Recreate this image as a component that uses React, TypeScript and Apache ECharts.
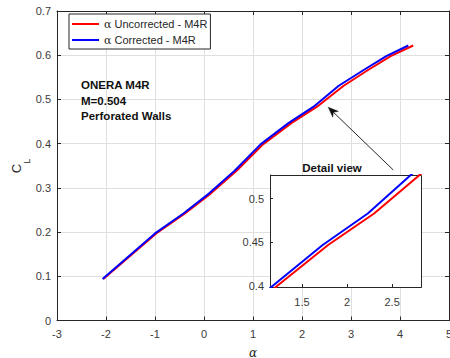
import React, { useEffect, useRef } from 'react';
import * as echarts from 'echarts';

// ---------- data ----------
const seriesNames = ['α Uncorrected - M4R', 'α Corrected - M4R'];
const alphaUncorrected = [-2.055, -0.975, -0.39, 0.135, 0.66, 1.21, 1.79, 2.3, 2.85, 3.34, 3.81, 4.27];
const clUncorrected = [0.094, 0.197, 0.242, 0.287, 0.338, 0.399, 0.447, 0.483, 0.531, 0.566, 0.598, 0.622];
const alphaCorrected = [-2.07, -1.0, -0.42, 0.1, 0.62, 1.16, 1.73, 2.23, 2.75, 3.25, 3.72, 4.17];
const clCorrected = [0.094, 0.197, 0.242, 0.287, 0.338, 0.399, 0.447, 0.483, 0.531, 0.566, 0.598, 0.622];
const insetXTicks = [1.5, 2, 2.5];
const insetYTicks = [0.4, 0.45, 0.5];
const annotationLines = ['ONERA M4R', 'M=0.504', 'Perforated Walls'];
const insetTitle = 'Detail view';

const FONT = '"Liberation Sans", Arial, Helvetica, sans-serif';
const AX = '#262626';
const LBL = '#3a3a3a';
const GRIDC = '#dfdfdf';
const RED = '#ff0000';
const BLUE = '#0000ff';

const pairs = (xs: number[], ys: number[]) => xs.map((x, i) => [x, ys[i]]);

function buildOption(): any {
  const tipX = 328.3, tipY = 107.3, tailX = 393.3, tailY = 170;
  const dx = tipX - tailX, dy = tipY - tailY;
  const len = Math.sqrt(dx * dx + dy * dy);
  const ux = dx / len, uy = dy / len;
  const px = -uy, py = ux;
  const headL = 10, headW = 4, notch = 7;
  const head = [
    [tipX, tipY],
    [tipX - headL * ux + headW * px, tipY - headL * uy + headW * py],
    [tipX - notch * ux, tipY - notch * uy],
    [tipX - headL * ux - headW * px, tipY - headL * uy - headW * py],
  ];

  const mainAxisCommon = {
    axisLine: { show: true, onZero: false, lineStyle: { color: AX, width: 1 } },
    axisTick: { show: true, inside: true, length: 4, lineStyle: { color: AX } },
  };

  return {
    animation: false,
    backgroundColor: '#fff',
    grid: [
      { left: 57, right: 1, top: 11, bottom: 37.5, containLabel: false, outerBoundsMode: 'none' },
      { left: 270, top: 175, width: 151, height: 112, containLabel: false, outerBoundsMode: 'none' },
    ],
    legend: {
      data: seriesNames,
      orient: 'vertical',
      left: 69,
      top: 14,
      icon: 'rect',
      itemWidth: 27,
      itemHeight: 2,
      itemGap: 2,
      padding: [3, 3, 2, 3],
      borderColor: AX,
      borderWidth: 1,
      backgroundColor: '#fff',
      formatter: (name: string) => name.replace('α', '{a|α}'),
      textStyle: {
        fontFamily: FONT,
        fontSize: 11,
        color: AX,
        lineHeight: 14,
        rich: { a: { fontFamily: '"DejaVu Serif", serif', fontSize: 11, color: AX, lineHeight: 14 } },
      },
      z: 30,
    },
    xAxis: [
      {
        gridIndex: 0, type: 'value', min: -3, max: 5, interval: 1, position: 'bottom',
        ...mainAxisCommon,
        axisLabel: { color: LBL, fontSize: 11, fontFamily: FONT, margin: 8 },
        splitLine: { show: true, lineStyle: { color: GRIDC, width: 1 } },
        name: 'α', nameLocation: 'middle', nameGap: 26,
        nameTextStyle: { fontFamily: '"DejaVu Serif", serif', fontStyle: 'italic', fontSize: 12, color: AX },
      },
      {
        gridIndex: 0, type: 'value', min: -3, max: 5, interval: 1, position: 'top',
        ...mainAxisCommon,
        axisLabel: { show: false }, splitLine: { show: false },
      },
      {
        gridIndex: 1, type: 'value', min: 1.146, max: 2.82, position: 'bottom', z: 20,
        axisLine: { show: true, onZero: false, lineStyle: { color: AX } },
        axisTick: { show: true, inside: true, length: 3, customValues: insetXTicks, lineStyle: { color: AX } },
        axisLabel: { customValues: insetXTicks, color: LBL, fontSize: 11, fontFamily: FONT, margin: 9 },
        splitLine: { show: false },
      },
    ],
    yAxis: [
      {
        gridIndex: 0, type: 'value', min: 0, max: 0.7, interval: 0.1, position: 'left',
        ...mainAxisCommon,
        axisLabel: { color: LBL, fontSize: 11, fontFamily: FONT, margin: 6 },
        splitLine: { show: true, lineStyle: { color: GRIDC, width: 1 } },
      },
      {
        gridIndex: 0, type: 'value', min: 0, max: 0.7, interval: 0.1, position: 'right',
        ...mainAxisCommon,
        axisLabel: { show: false }, splitLine: { show: false },
      },
      {
        gridIndex: 1, type: 'value', min: 0.399, max: 0.527, position: 'left', z: 20,
        axisLine: { show: true, onZero: false, lineStyle: { color: AX } },
        axisTick: { show: true, inside: true, length: 3, customValues: insetYTicks, lineStyle: { color: AX } },
        axisLabel: { customValues: insetYTicks, color: LBL, fontSize: 11, fontFamily: FONT, margin: 6 },
        splitLine: { show: false },
      },
    ],
    series: [
      {
        name: seriesNames[0], type: 'line', xAxisIndex: 0, yAxisIndex: 0,
        data: pairs(alphaUncorrected, clUncorrected), symbol: 'none', showSymbol: false,
        lineStyle: { color: RED, width: 2 }, itemStyle: { color: RED }, z: 3,
      },
      {
        name: seriesNames[1], type: 'line', xAxisIndex: 0, yAxisIndex: 0,
        data: pairs(alphaCorrected, clCorrected), symbol: 'none', showSymbol: false,
        lineStyle: { color: BLUE, width: 2 }, itemStyle: { color: BLUE }, z: 4,
      },
      {
        name: seriesNames[0], type: 'line', xAxisIndex: 2, yAxisIndex: 2, clip: true,
        data: pairs(alphaUncorrected, clUncorrected), symbol: 'none', showSymbol: false,
        lineStyle: { color: RED, width: 2 }, itemStyle: { color: RED }, z: 21,
      },
      {
        name: seriesNames[1], type: 'line', xAxisIndex: 2, yAxisIndex: 2, clip: true,
        data: pairs(alphaCorrected, clCorrected), symbol: 'none', showSymbol: false,
        lineStyle: { color: BLUE, width: 2 }, itemStyle: { color: BLUE }, z: 22,
      },
    ],
    graphic: [
      {
        type: 'rect', z: 10, silent: true,
        shape: { x: 270.5, y: 175.5, width: 151, height: 112 },
        style: { fill: '#fff', stroke: AX, lineWidth: 1 },
      },
      {
        type: 'text', z: 30, x: 81, y: 77.3,
        style: {
          text: annotationLines.join('\n'),
          font: `bold 11.5px ${FONT}`,
          fill: '#111',
          lineHeight: 15.5,
          align: 'left',
          verticalAlign: 'top',
        },
      },
      {
        type: 'text', z: 30, x: 332, y: 167.5,
        style: {
          text: insetTitle,
          font: `bold 11.5px ${FONT}`,
          fill: '#111',
          align: 'center',
          verticalAlign: 'middle',
        },
      },
      {
        type: 'line', z: 30, silent: true,
        shape: { x1: tailX, y1: tailY, x2: tipX - notch * ux, y2: tipY - notch * uy },
        style: { stroke: AX, lineWidth: 1 },
      },
      {
        type: 'polygon', z: 31, silent: true,
        shape: { points: head },
        style: { fill: '#111', stroke: '#111', lineWidth: 0.5 },
      },
      {
        type: 'text', z: 30, x: 26.5, y: 166, rotation: Math.PI / 2,
        style: {
          text: '{c|C}{l|L}',
          align: 'center',
          verticalAlign: 'middle',
          rich: {
            c: { fontSize: 13, lineHeight: 13, verticalAlign: 'top', fontFamily: FONT, fill: AX, color: AX },
            l: { fontSize: 9, lineHeight: 33, fontFamily: FONT, fill: AX, color: AX },
          },
        },
      },
    ],
  };
}

export default function App() {
  const ref = useRef<HTMLDivElement | null>(null);
  useEffect(() => {
    if (!ref.current) return;
    const chart = echarts.init(ref.current, undefined, { renderer: 'svg' });
    chart.setOption(buildOption());
    return () => {
      chart.dispose();
    };
  }, []);
  return (
    <div
      ref={ref}
      style={{ position: 'fixed', left: 0, top: 0, width: 450, height: 358, background: '#fff' }}
    />
  );
}
